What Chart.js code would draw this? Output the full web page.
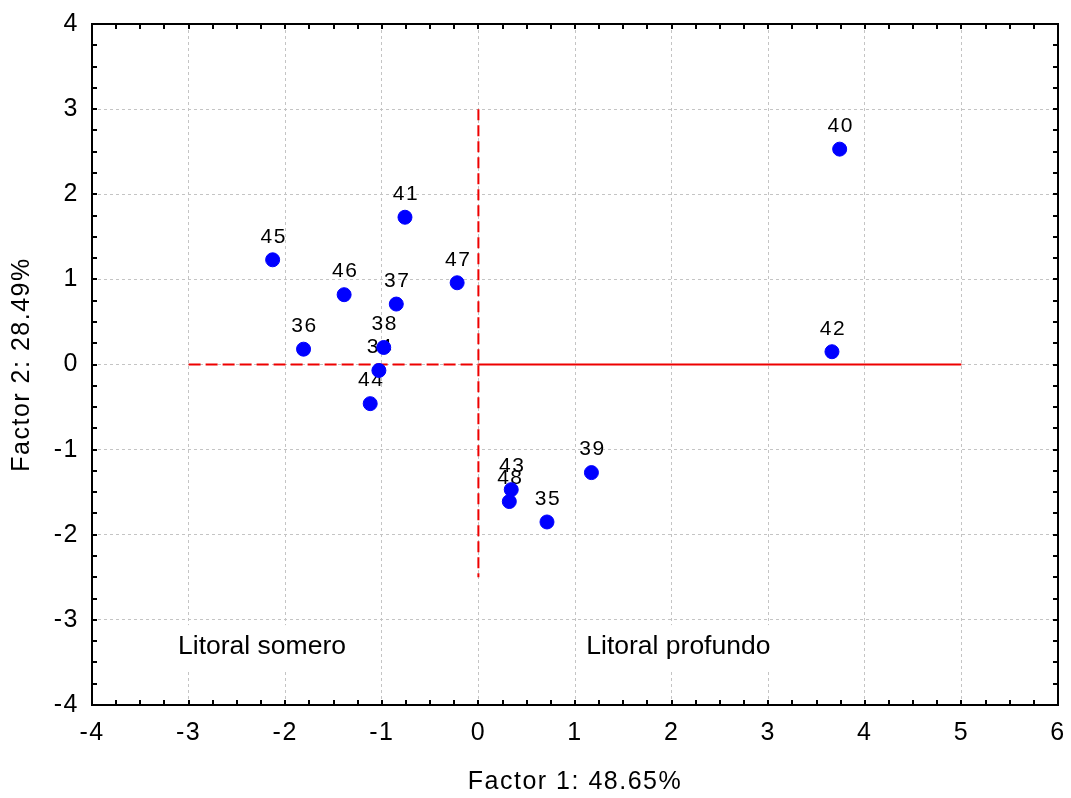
<!DOCTYPE html>
<html>
<head>
<meta charset="utf-8">
<script src="https://cdn.jsdelivr.net/npm/chart.js@4.4.1/dist/chart.umd.min.js"></script>
<style>
  html, body { margin: 0; padding: 0; background: #fff; }
  #wrap { width: 1071px; height: 798px; }
</style>
</head>
<body>
<div id="wrap"><canvas id="pcaChart"></canvas></div>
<script>
// Sitios de muestreo y sus puntuaciones en los dos primeros factores
const siteLabels = ['34', '35', '36', '37', '38', '39', '40', '41', '42', '43', '44', '45', '46', '47', '48'];
const factor1 = [-1.03, 0.71, -1.81, -0.85, -0.98, 1.17, 3.74, -0.76, 3.66, 0.34, -1.12, -2.13, -1.39, -0.22, 0.32];
const factor2 = [-0.07, -1.85, 0.18, 0.71, 0.20, -1.27, 2.53, 1.73, 0.15, -1.47, -0.46, 1.23, 0.82, 0.96, -1.61];

// Ejes
const xTicks = [-4, -3, -2, -1, 0, 1, 2, 3, 4, 5, 6];
const yTicks = [-4, -3, -2, -1, 0, 1, 2, 3, 4];

// Líneas de separación entre zonas
const dividerDashed = [{ x: -3, y: 0 }, { x: 0, y: 0 }];
const dividerSolid = [{ x: 0, y: 0 }, { x: 5, y: 0 }];
const dividerVertical = [{ x: 0, y: 3 }, { x: 0, y: -2.5 }];

// Rótulos de zona
const zoneNames = ['Litoral somero', 'Litoral profundo'];
const zoneX = [-2.24, 2.07];
const zoneY = [-3.32, -3.32];

const points = siteLabels.map((s, i) => ({ x: factor1[i], y: factor2[i] }));

const FONT = '"Liberation Sans", Arial, sans-serif';
const RED = '#ee0000';

// espaciado de letras global (el texto original sale algo abierto)
const spacingPlugin = {
    id: 'spacing',
    beforeDraw(chart) { chart.ctx.letterSpacing = '1.5px'; },
    afterDraw(chart) { chart.ctx.letterSpacing = '0px'; }
};

// rótulos de zona con fondo blanco y etiquetas de cada punto (debajo de los puntos)
const labelsPlugin = {
    id: 'siteLabels',
    beforeDatasetsDraw(chart) {
        const ctx = chart.ctx;
        const xs = chart.scales.x, ys = chart.scales.y;
        ctx.save();
        ctx.letterSpacing = '0px';
        ctx.font = '26.5px ' + FONT;
        ctx.textAlign = 'center';
        ctx.textBaseline = 'middle';
        zoneNames.forEach((name, i) => {
            const px = xs.getPixelForValue(zoneX[i]);
            const py = ys.getPixelForValue(zoneY[i]);
            const w = ctx.measureText(name).width;
            ctx.fillStyle = '#fff';
            ctx.fillRect(px - w / 2 - 6, py - 22, w + 12, 44);
            ctx.fillStyle = '#000';
            ctx.fillText(name, px, py);
        });
        ctx.letterSpacing = '1.5px';
        ctx.font = '21px ' + FONT;
        ctx.fillStyle = '#000';
        siteLabels.forEach((s, i) => {
            const px = xs.getPixelForValue(factor1[i]);
            const py = ys.getPixelForValue(factor2[i]);
            ctx.fillText(s, px + 1, py - 23);
        });
        ctx.restore();
    }
};

// marco negro con marcas menores hacia dentro
const framePlugin = {
    id: 'frame',
    afterDraw(chart) {
        const ctx = chart.ctx;
        const a = chart.chartArea;
        const xs = chart.scales.x, ys = chart.scales.y;
        ctx.save();
        ctx.strokeStyle = '#000';
        ctx.lineWidth = 2;
        ctx.beginPath();
        for (let v = xs.min; v <= xs.max + 1e-9; v += 0.25) {
            const px = Math.round(xs.getPixelForValue(v));
            ctx.moveTo(px, a.bottom); ctx.lineTo(px, a.bottom - 5);
            ctx.moveTo(px, a.top); ctx.lineTo(px, a.top + 5);
        }
        for (let v = ys.min; v <= ys.max + 1e-9; v += 0.25) {
            const py = Math.round(ys.getPixelForValue(v));
            ctx.moveTo(a.left, py); ctx.lineTo(a.left + 5, py);
            ctx.moveTo(a.right, py); ctx.lineTo(a.right - 5, py);
        }
        ctx.stroke();
        ctx.strokeRect(a.left, a.top, a.right - a.left, a.bottom - a.top);
        ctx.restore();
    }
};

const ctx = document.getElementById('pcaChart').getContext('2d');

new Chart(ctx, {
    type: 'scatter',
    data: {
        datasets: [
            {
                label: 'Sitios',
                data: points,
                backgroundColor: '#0000ff',
                borderColor: '#0000ff',
                pointRadius: 7,
                pointHoverRadius: 7,
                order: 0
            },
            {
                data: dividerDashed,
                showLine: true,
                borderColor: RED,
                borderWidth: 2,
                borderDash: [12, 5],
                pointRadius: 0,
                order: 1
            },
            {
                data: dividerSolid,
                showLine: true,
                borderColor: RED,
                borderWidth: 2,
                pointRadius: 0,
                order: 1
            },
            {
                data: dividerVertical,
                showLine: true,
                borderColor: RED,
                borderWidth: 2,
                borderDash: [11, 5],
                pointRadius: 0,
                order: 1
            }
        ]
    },
    options: {
        responsive: true,
        maintainAspectRatio: false,
        animation: false,
        layout: { padding: { top: 24, right: 13, left: 0, bottom: 0 } },
        plugins: {
            legend: { display: false },
            tooltip: { enabled: false }
        },
        scales: {
            x: {
                type: 'linear',
                min: -4,
                max: 6,
                afterBuildTicks: (scale) => { scale.ticks = xTicks.map(v => ({ value: v })); },
                afterFit: (scale) => {
                    scale.height = 93;
                    scale.paddingLeft = 0;
                    scale.paddingRight = 0;
                },
                grid: { color: '#c4c4c4', lineWidth: 1, drawTicks: false },
                border: { display: false, dash: [3, 3] },
                ticks: { color: '#000', padding: 13, font: { family: FONT, size: 25 } },
                title: {
                    display: true,
                    text: 'Factor 1: 48.65%',
                    color: '#000',
                    padding: { top: 0, bottom: 1 },
                    font: { family: FONT, size: 25 }
                }
            },
            y: {
                type: 'linear',
                min: -4,
                max: 4,
                afterBuildTicks: (scale) => { scale.ticks = yTicks.map(v => ({ value: v })); },
                afterFit: (scale) => {
                    scale.width = 92;
                    scale.paddingTop = 0;
                    scale.paddingBottom = 0;
                },
                grid: { color: '#c4c4c4', lineWidth: 1, drawTicks: false },
                border: { display: false, dash: [3, 3] },
                ticks: { color: '#000', padding: 13, font: { family: FONT, size: 25 } },
                title: {
                    display: true,
                    text: 'Factor 2: 28.49%',
                    color: '#000',
                    padding: { top: 7, bottom: 0 },
                    font: { family: FONT, size: 25 }
                }
            }
        }
    },
    plugins: [spacingPlugin, labelsPlugin, framePlugin]
});
</script>
</body>
</html>
